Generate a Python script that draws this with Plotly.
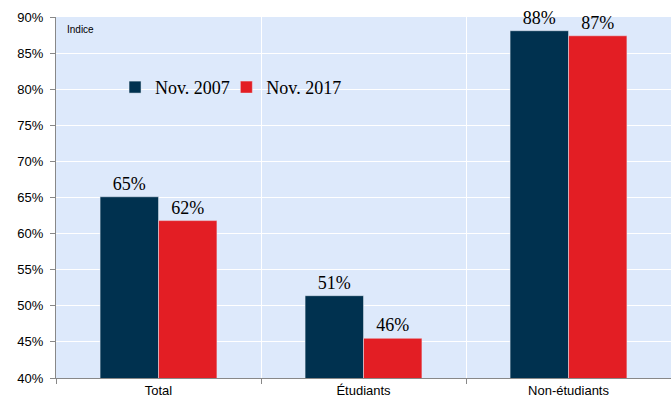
import plotly.graph_objects as go

categories = ["Total", "Étudiants", "Non-étudiants"]
nov2007 = [65.1, 51.4, 88.1]
nov2017 = [61.8, 45.5, 87.4]
labels2007 = ["65%", "51%", "88%"]
labels2017 = ["62%", "46%", "87%"]
series_names = ["Nov. 2007", "Nov. 2017"]
tick_vals = [40, 45, 50, 55, 60, 65, 70, 75, 80, 85, 90]
tick_text = [f"{v}%" for v in tick_vals]

fig = go.Figure()
fig.add_trace(go.Bar(x=categories, y=nov2007, name=series_names[0], marker_color="#00314f",
                     text=labels2007, textposition="outside", cliponaxis=False,
                     legend="legend",
                     textfont=dict(family="Liberation Serif", size=18, color="black")))
fig.add_trace(go.Bar(x=categories, y=nov2017, name=series_names[1], marker_color="#e31e24",
                     text=labels2017, textposition="outside", cliponaxis=False,
                     legend="legend2",
                     textfont=dict(family="Liberation Serif", size=18, color="black")))

legend_style = dict(orientation="h", y=0.805, xanchor="left", yanchor="middle",
                    bgcolor="rgba(0,0,0,0)",
                    font=dict(family="Liberation Serif", size=18, color="black"),
                    itemwidth=30, tracegroupgap=0)

fig.update_layout(
    width=671, height=400,
    margin=dict(l=56, r=0, t=17, b=22),
    paper_bgcolor="white", plot_bgcolor="#dde9fb",
    barmode="group", bargap=0.43, bargroupgap=0,
    showlegend=True,
    legend=dict(x=0.096, **legend_style),
    legend2=dict(x=0.277, **legend_style),
    font=dict(family="Arial", size=13, color="black"),
    annotations=[dict(text="Indice", x=0.015, y=0.985, xref="paper", yref="paper",
                      xanchor="left", yanchor="top", showarrow=False,
                      font=dict(family="Arial", size=10, color="black"))],
)
fig.update_yaxes(range=[40, 90], tickvals=tick_vals, ticktext=tick_text,
                 showgrid=True, gridcolor="white", gridwidth=1,
                 showline=True, linecolor="#888888", ticks="outside", ticklen=5,
                 tickcolor="#888888", zeroline=False, ticklabelstandoff=4,
                 tickfont=dict(family="Arial", size=13))
fig.update_xaxes(tickson="boundaries", showgrid=True, gridcolor="white",
                 showline=True, linecolor="#888888", ticks="outside", ticklen=5,
                 tickcolor="#888888", tickfont=dict(family="Arial", size=13))

fig.write_html("out.html", config={"displayModeBar": False},
               post_script="document.body.style.margin='0';document.body.style.overflow='hidden';")
